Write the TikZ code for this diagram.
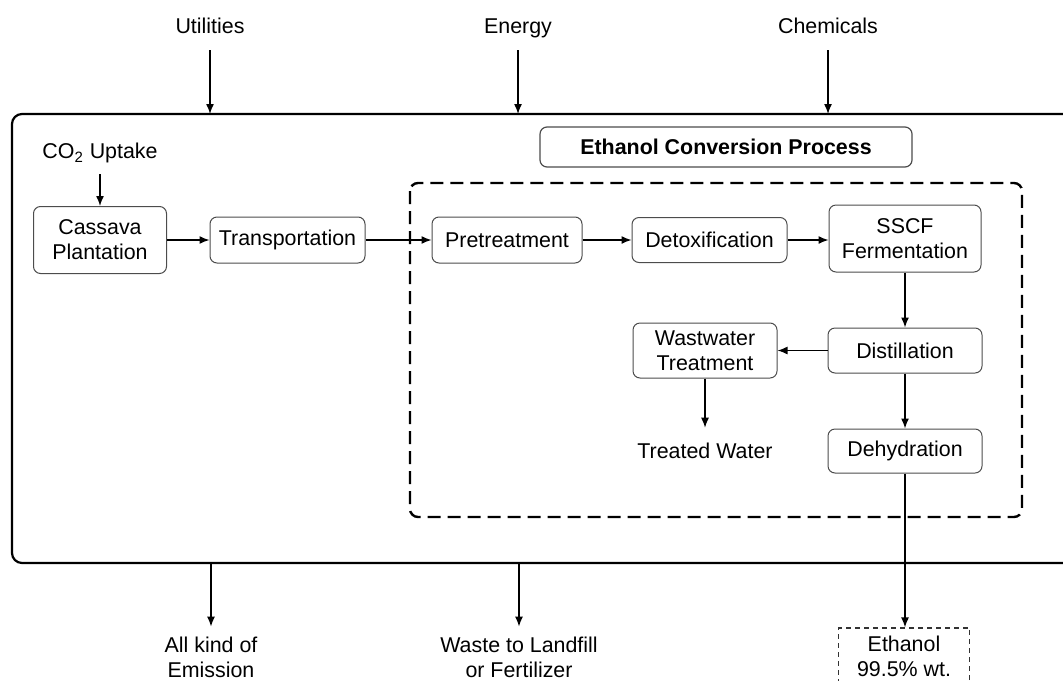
\documentclass[tikz,border=0pt]{standalone}
\usepackage{fontspec}
\setmainfont{Liberation Sans}
\usetikzlibrary{arrows.meta}
\begin{document}
\begin{tikzpicture}[x=0.5pt, y=-0.5pt,
    font=\fontsize{10.7}{12.5}\selectfont,
    stepbox/.style={draw=black!70, line width=0.5pt, rounded corners=3.5pt, align=center, inner sep=1pt},
    label/.style={align=center, text height=8pt, text depth=2.2pt},
    outlabel/.style={align=center},
    arr/.style={-{Latex[length=5pt, width=4pt]}, line width=0.7pt},
    frame/.style={line width=1.1pt, rounded corners=5pt},
    groupbox/.style={line width=1.2pt, dash pattern=on 6.5pt off 3.5pt, rounded corners=4pt}]
    \useasboundingbox (0,0) rectangle (1063,680);
    % Outer system boundary
    \coordinate (top) at (0,114);
    \coordinate (bot) at (0,563);
    \draw[frame] (1063,114) -- (12,114) -- (12,563) -- (1063,563);
    % Ethanol conversion group
    \draw[groupbox] (410,183) rectangle (1022,517);
    \node[stepbox, minimum width=186pt, minimum height=20pt, line width=0.6pt, font=\fontsize{10.7}{12.5}\selectfont\bfseries] (ecp) at (726,147) {Ethanol Conversion Process};
    % Inputs
    \node[label] (utilities) at (210,28) {Utilities};
    \node[label] (energy) at (518,28) {Energy};
    \node[label] (chemicals) at (828,28) {Chemicals};
    \draw[arr, shorten <=2.5pt] (utilities) -- (utilities |- top);
    \draw[arr, shorten <=2.5pt] (energy) -- (energy |- top);
    \draw[arr, shorten <=2.5pt] (chemicals) -- (chemicals |- top);
    % Plantation and transport
    \node[label] (co2) at (100,153) {CO\textsubscript{2} Uptake};
    \node[stepbox, minimum width=66.5pt, minimum height=33.5pt] (cassava) at (100,240) {Cassava\\Plantation};
    \node[stepbox, minimum width=77.5pt, minimum height=23pt] (transport) at (287.5,240) {Transportation};
    \draw[arr, shorten <=2pt] (co2) -- (cassava);
    \draw[arr] (cassava) -- (transport);
    % Process steps
    \node[stepbox, minimum width=75pt, minimum height=23pt] (pretreat) at (507,240) {Pretreatment};
    \node[stepbox, minimum width=77.5pt, minimum height=22.5pt] (detox) at (709.5,240) {Detoxification};
    \node[stepbox, minimum width=76pt, minimum height=33.5pt] (sscf) at (905,238.5) {SSCF\\Fermentation};
    \node[stepbox, minimum width=77pt, minimum height=22.5pt] (distill) at (905,350.5) {Distillation};
    \node[stepbox, minimum width=72pt, minimum height=27.5pt] (wastwater) at (705,350.5) {Wastwater\\Treatment};
    \node[stepbox, minimum width=77pt, minimum height=22pt] (dehyd) at (905,451) {Dehydration};
    \node[label] (treated) at (705,453) {Treated Water};
    \draw[arr] (transport) -- (pretreat);
    \draw[arr] (pretreat) -- (detox);
    \draw[arr] (detox) -- (detox -| sscf.west);
    \draw[arr] (sscf) -- (distill);
    \draw[arr] (distill) -- (wastwater);
    \draw[arr, shorten >=4pt] (wastwater) -- (treated);
    \draw[arr] (distill) -- (dehyd);
    % Outputs
    \node[stepbox, draw=black!80, line width=0.6pt, dash pattern=on 2.5pt off 2pt, rounded corners=0pt, minimum width=65.5pt, minimum height=28pt] (ethanol) at (904,656) {Ethanol\\99.5\% wt.};
    \draw[arr] (dehyd) -- (dehyd |- ethanol.north);
    \node[outlabel] (emission) at (211,657) {All kind of\\Emission};
    \node[outlabel] (waste) at (519,657) {Waste to Landfill\\or Fertilizer};
    \draw[arr, shorten >=1.5pt] (emission |- bot) -- (emission);
    \draw[arr, shorten >=1.5pt] (waste |- bot) -- (waste);
\end{tikzpicture}
\end{document}
